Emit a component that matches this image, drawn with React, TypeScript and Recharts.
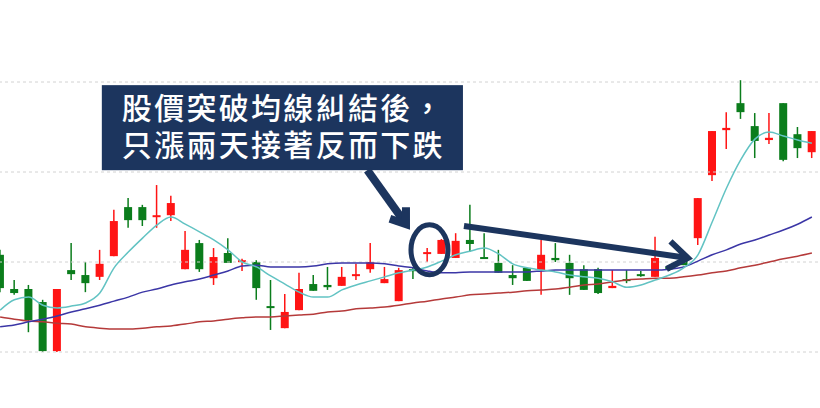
import { ComposedChart, Bar, Line, XAxis, YAxis, ReferenceLine, ReferenceArea, ReferenceDot } from 'recharts';

// daily candles (price units, gridlines every 2)
const OPEN = [26.16, 25.40, 25.40, 25.11, 24.02, 25.82, 25.71, 25.67, 26.13, 27.22, 27.22, 27.00, 27.04, 25.84, 26.42, 25.64, 26.20, 26.00, 26.00, 25.02, 24.53, 24.93, 25.51, 25.49, 25.47, 25.69, 25.84, 25.53, 25.13, 25.84, 26.18, 26.18, 26.09, 26.49, 26.11, 25.98, 25.71, 25.87, 25.82, 26.09, 25.98, 25.84, 25.84, 25.42, 25.62, 25.73, 25.67, 25.89, 26.09, 26.53, 27.93, 28.93, 29.53, 29.02, 28.71, 29.53, 28.84, 28.44];
const HIGH = [26.27, 25.60, 25.49, 25.16, 25.40, 26.42, 26.00, 26.27, 27.16, 27.42, 27.27, 27.71, 27.47, 26.69, 26.49, 26.31, 26.53, 26.07, 26.04, 25.60, 25.29, 25.76, 25.71, 25.89, 25.89, 25.96, 26.42, 25.89, 25.87, 25.87, 26.31, 26.51, 26.64, 27.27, 26.64, 26.27, 25.93, 25.87, 26.49, 26.42, 26.16, 25.93, 25.87, 25.82, 25.82, 25.80, 26.56, 25.93, 26.16, 27.42, 28.91, 29.33, 30.04, 29.31, 29.31, 29.53, 29.00, 28.91];
const LOW = [25.33, 25.27, 24.44, 24.00, 24.00, 25.60, 25.33, 25.60, 26.13, 26.76, 26.80, 26.76, 26.91, 25.84, 25.78, 25.49, 25.98, 25.80, 25.16, 24.49, 24.53, 24.93, 25.36, 25.38, 25.47, 25.60, 25.76, 25.53, 25.13, 25.62, 26.00, 26.18, 26.09, 26.22, 26.07, 25.76, 25.49, 25.58, 25.27, 26.00, 25.27, 25.38, 25.29, 25.42, 25.53, 25.67, 25.67, 25.80, 25.93, 26.38, 27.80, 28.51, 29.18, 28.31, 28.62, 28.24, 28.31, 28.31];
const CLOSE = [25.42, 25.31, 24.71, 24.02, 25.40, 25.73, 25.53, 25.96, 26.91, 26.93, 26.93, 27.04, 27.31, 26.27, 25.84, 26.11, 25.98, 26.04, 25.42, 25.00, 24.89, 25.40, 25.36, 25.44, 25.67, 25.73, 26.00, 25.62, 25.82, 25.80, 26.22, 26.49, 26.47, 26.40, 26.07, 25.76, 25.64, 25.58, 26.16, 26.04, 25.64, 25.38, 25.31, 25.47, 25.58, 25.69, 26.09, 25.84, 25.93, 27.42, 28.91, 28.98, 29.33, 28.69, 28.76, 28.27, 28.53, 28.91];

// moving averages
const MA_SHORT = [24.93, 25.16, 25.22, 25.04, 24.98, 25.02, 25.09, 25.31, 25.87, 26.22, 26.53, 26.82, 27.00, 26.84, 26.67, 26.49, 26.27, 26.00, 25.89, 25.69, 25.51, 25.33, 25.22, 25.22, 25.38, 25.49, 25.58, 25.67, 25.76, 25.82, 25.89, 26.02, 26.16, 26.24, 26.31, 26.18, 25.96, 25.87, 25.82, 25.78, 25.71, 25.67, 25.64, 25.56, 25.44, 25.49, 25.60, 25.71, 25.87, 26.16, 26.89, 27.64, 28.27, 28.73, 28.89, 28.80, 28.71, 28.64];
const MA_MID = [24.56, 24.60, 24.67, 24.73, 24.80, 24.89, 24.96, 25.04, 25.13, 25.22, 25.33, 25.40, 25.49, 25.56, 25.62, 25.71, 25.80, 25.91, 25.93, 25.89, 25.89, 25.89, 25.91, 25.96, 25.98, 25.98, 25.98, 25.96, 25.91, 25.87, 25.80, 25.76, 25.76, 25.78, 25.78, 25.78, 25.78, 25.78, 25.80, 25.82, 25.82, 25.82, 25.82, 25.82, 25.82, 25.82, 25.82, 25.84, 25.89, 26.02, 26.16, 26.27, 26.40, 26.49, 26.60, 26.71, 26.84, 27.00];
const MA_LONG = [24.78, 24.73, 24.69, 24.67, 24.64, 24.62, 24.56, 24.53, 24.51, 24.51, 24.53, 24.56, 24.58, 24.62, 24.67, 24.69, 24.73, 24.76, 24.78, 24.78, 24.80, 24.82, 24.84, 24.89, 24.91, 24.96, 24.98, 25.00, 25.04, 25.09, 25.13, 25.18, 25.22, 25.27, 25.29, 25.31, 25.33, 25.36, 25.38, 25.40, 25.44, 25.49, 25.51, 25.56, 25.60, 25.62, 25.64, 25.64, 25.67, 25.71, 25.76, 25.80, 25.87, 25.93, 26.00, 26.07, 26.13, 26.20];

const GRID_LEVELS = [24, 26, 28, 30];

const CALLOUT_LINES = ['股價突破均線糾結後，', '只漲兩天接著反而下跌'];

const RED = '#ff1414';
const GREEN = '#0b7d1c';
const NAVY = '#1c355e';

const data = OPEN.map((open, i) => ({
  day: i,
  open,
  high: HIGH[i],
  low: LOW[i],
  close: CLOSE[i],
  ma5: MA_SHORT[i],
  ma20: MA_MID[i],
  ma60: MA_LONG[i],
}));

const Candle = (props: any) => {
  const { x, y, width, height, payload } = props;
  const { open, close, high, low } = payload;
  const top0 = Math.min(y, y + height);
  const h = Math.abs(height);
  const cx = x + width / 2;
  const ppu = high === low ? 0 : h / (high - low);
  const yOf = (v: number) => top0 + (high - v) * ppu;
  const color = close >= open ? RED : GREEN;
  const bTop = yOf(Math.max(open, close));
  const bBot = yOf(Math.min(open, close));
  return (
    <g>
      <line x1={cx} x2={cx} y1={top0} y2={top0 + h} stroke={color} strokeWidth={1.5} />
      <rect x={cx - 4} y={bTop} width={8} height={Math.max(bBot - bTop, 2)} fill={color} />
    </g>
  );
};

const arrow = (w: number, head: number) => (p: any) => {
  const { x1, y1, x2, y2 } = p;
  const a = Math.atan2(y2 - y1, x2 - x1);
  const s = 0.62;
  const b1x = x2 - head * Math.cos(a - s);
  const b1y = y2 - head * Math.sin(a - s);
  const b2x = x2 - head * Math.cos(a + s);
  const b2y = y2 - head * Math.sin(a + s);
  return (
    <g>
      <line x1={x1} y1={y1} x2={x2} y2={y2} stroke={NAVY} strokeWidth={w} />
      <polyline
        points={`${b1x},${b1y} ${x2},${y2} ${b2x},${b2y}`}
        fill="none"
        stroke={NAVY}
        strokeWidth={w}
        strokeLinejoin="miter"
      />
    </g>
  );
};

const Callout = (p: any) => (
  <g>
    <rect x={p.x} y={p.y} width={p.width} height={p.height} fill={NAVY} />
    {CALLOUT_LINES.map((t, i) => (
      <text
        key={t}
        x={p.x + 20}
        y={p.y + 34 + i * 37}
        fill="#fff"
        fontSize={30}
        letterSpacing={2.3}
        fontWeight={500}
        lang="zh-TW"
        fontFamily='"Liberation Sans", "Noto Sans CJK TC", sans-serif'
      >
        {t}
      </text>
    ))}
  </g>
);

const Ring = (p: any) => (
  <ellipse cx={p.cx} cy={p.cy} rx={18.5} ry={25} fill="none" stroke={NAVY} strokeWidth={5} />
);

export default function App() {
  return (
    <div style={{ position: 'fixed', left: 0, top: 0, width: 820, height: 408, overflow: 'hidden', background: '#fff' }}>
      <div style={{ position: 'absolute', left: -7, top: 0 }}>
        <ComposedChart width={826} height={408} data={data} margin={{ top: 37, right: 0, bottom: 11, left: 0 }}>
          <XAxis dataKey="day" hide />
          <XAxis xAxisId="pos" type="number" domain={[-0.5, 57.5]} allowDataOverflow hide />
          <YAxis hide domain={[23, 31]} allowDataOverflow />
          {GRID_LEVELS.map((v) => (
            <ReferenceLine key={v} y={v} stroke="#d2d2d2" strokeDasharray="3 3" />
          ))}
          <Bar dataKey={(d: any) => [d.low, d.high]} shape={Candle} isAnimationActive={false} />
          <Line dataKey="ma60" type="monotone" stroke="#b53a3a" strokeWidth={1.5} dot={false} activeDot={false} isAnimationActive={false} />
          <Line dataKey="ma20" type="monotone" stroke="#3b36a6" strokeWidth={1.5} dot={false} activeDot={false} isAnimationActive={false} />
          <Line dataKey="ma5" type="monotone" stroke="#62c3c3" strokeWidth={1.5} dot={false} activeDot={false} isAnimationActive={false} />
          <ReferenceArea xAxisId="pos" x1={7.51} x2={32.43} y1={28.04} y2={29.93} ifOverflow="visible" shape={Callout} />
          <ReferenceLine
            xAxisId="pos"
            segment={[{ x: 25.83, y: 28.04 }, { x: 28.5, y: 26.84 }]}
            ifOverflow="visible"
            shape={arrow(8, 17)}
          />
          <ReferenceDot xAxisId="pos" x={30.12} y={26.27} ifOverflow="visible" shape={Ring} />
          <ReferenceLine
            xAxisId="pos"
            segment={[{ x: 32.5, y: 26.8 }, { x: 47.95, y: 26.09 }]}
            ifOverflow="visible"
            shape={arrow(6, 24)}
          />
        </ComposedChart>
      </div>
    </div>
  );
}
